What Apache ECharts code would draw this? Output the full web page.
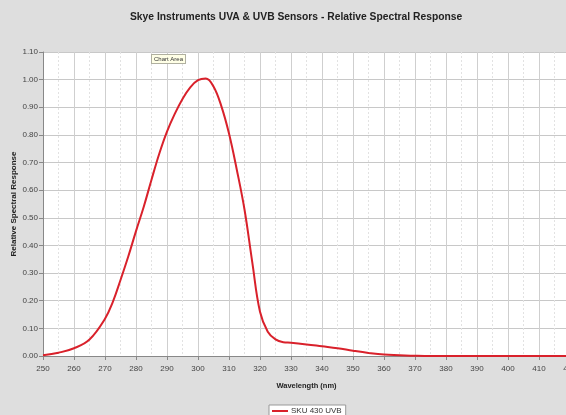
<!DOCTYPE html>
<html>
<head>
<meta charset="utf-8">
<script src="https://cdn.jsdelivr.net/npm/echarts@6/dist/echarts.min.js"></script>
<style>html,body{margin:0;padding:0;background:#dedede;}#c{width:566px;height:415px;}</style>
</head>
<body>
<div id="c"></div>
<script>
const wavelengths = [250,255,260,265,270,272.5,275,277.5,280,282.5,285,287.5,290,292.5,295,297.5,300,302.5,305,307.5,310,312.5,315,317.5,320,322.5,325,327.5,330,335,340,345,350,355,360,365,370,375,380,390,400,410,420];
const response    = [0.003,0.012,0.028,0.060,0.135,0.195,0.275,0.360,0.452,0.540,0.638,0.732,0.812,0.876,0.930,0.972,0.998,1.004,0.975,0.905,0.805,0.675,0.530,0.340,0.160,0.088,0.060,0.050,0.048,0.042,0.035,0.028,0.019,0.011,0.005,0.003,0.001,0,0,0,0,0,0];
const seriesName = 'SKU 430 UVB';
const titleText = 'Skye Instruments UVA & UVB Sensors - Relative Spectral Response';
const xName = 'Wavelength (nm)';
const yName = 'Relative Spectral Response';

const chart = echarts.init(document.getElementById('c'), null, {renderer:'canvas'});
const font = 'Liberation Sans, Arial, sans-serif';
chart.setOption({
  backgroundColor: '#dedede',
  animation: false,
  textStyle: {fontFamily: font},
  title: {
    text: titleText, left: 130, top: 12, padding: 0,
    textStyle: {fontSize: 10.3, fontWeight: 'bold', color: '#222', fontFamily: font}
  },
  legend: {
    data: [seriesName], bottom: -3, left: 269,
    backgroundColor: '#ffffff', borderColor: '#999', borderWidth: 1,
    padding: [2, 4, 3, 3], itemGap: 2, itemWidth: 16, itemHeight: 2,
    icon: 'rect',
    textStyle: {fontSize: 8, color: '#333', padding: [0,0,0,-2]}
  },
  grid: {left: 43, right: -4, top: 52, bottom: 59, outerBoundsMode: 'none', containLabel: false,
         show: true, backgroundColor: '#ffffff', borderWidth: 0},
  xAxis: {
    type: 'value', min: 250, max: 420, interval: 10,
    name: xName, nameLocation: 'middle', nameGap: 26, nameMoveOverlap: false,
    nameTextStyle: {fontSize: 7.5, fontWeight: 'bold', color: '#222'},
    axisLine: {show: true, lineStyle: {color: '#888'}},
    axisTick: {show: true, length: 4, lineStyle: {color: '#888'}},
    axisLabel: {fontSize: 8, color: '#444', margin: 9},
    splitLine: {show: true, lineStyle: {color: '#cfcfcf', width: 1}},
    minorTick: {show: false, splitNumber: 2},
    minorSplitLine: {show: true, lineStyle: {color: '#e2e2e2', type: [2,2]}}
  },
  yAxis: {
    type: 'value', min: 0, max: 1.1, interval: 0.1,
    name: yName, nameLocation: 'middle', nameGap: 25, nameMoveOverlap: false,
    nameTextStyle: {fontSize: 8, fontWeight: 'bold', color: '#222'},
    axisLine: {show: true, lineStyle: {color: '#888'}},
    axisTick: {show: true, length: 4, lineStyle: {color: '#888'}},
    axisLabel: {fontSize: 8, color: '#444', margin: 5, formatter: v => v.toFixed(2)},
    splitLine: {show: true, lineStyle: {color: '#c8c8c8', width: 1}}
  },
  series: [{
    name: seriesName, type: 'line', smooth: 0.4, showSymbol: false,
    data: wavelengths.map((w,i) => [w, response[i]]),
    lineStyle: {color: '#d9212b', width: 2},
    itemStyle: {color: '#d9212b'}
  }],
  graphic: [{
    type: 'text', left: 151, top: 54, z: 100,
    style: {
      text: 'Chart Area', fontSize: 6, fill: '#333', fontFamily: font,
      backgroundColor: '#ffffe6', borderColor: '#b0b0a0', borderWidth: 1, padding: [1,2]
    }
  }]
});
</script>
</body>
</html>
